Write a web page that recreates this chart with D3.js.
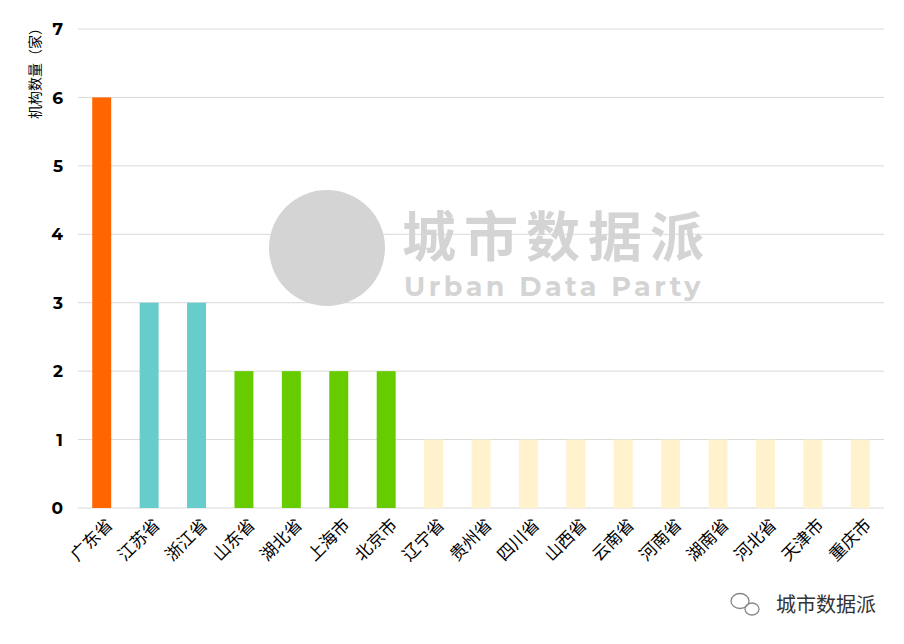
<!DOCTYPE html>
<html><head><meta charset="utf-8">
<script src="https://cdn.jsdelivr.net/npm/d3@7"></script>
<style>body{margin:0;background:#fff}</style>
</head><body>
<svg id="chart" width="904" height="644"></svg>
<script>
var provinces = ["广东省","江苏省","浙江省","山东省","湖北省","上海市","北京市","辽宁省","贵州省","四川省","山西省","云南省","河南省","湖南省","河北省","天津市","重庆市"];
var counts = [6,3,3,2,2,2,2,1,1,1,1,1,1,1,1,1,1];
var colors = ["#FF6600","#66CCCC","#66CCCC","#66CC00","#66CC00","#66CC00","#66CC00","#FFF2CC","#FFF2CC","#FFF2CC","#FFF2CC","#FFF2CC","#FFF2CC","#FFF2CC","#FFF2CC","#FFF2CC","#FFF2CC"];
var yTicks = [0,1,2,3,4,5,6,7];

var svg = d3.select("#chart");
var font = "'Noto Sans CJK SC', 'Noto Sans', sans-serif";
var x = d3.scaleBand().domain(provinces).range([78, 884]).paddingInner(0.6).paddingOuter(0.3);
var y = d3.scaleLinear().domain([0,7]).range([508, 29]);

svg.append("g").selectAll("line").data(yTicks).enter().append("line")
  .attr("x1", 78).attr("x2", 884)
  .attr("y1", d => y(d)).attr("y2", d => y(d))
  .attr("stroke", "#d9d9d9").attr("stroke-width", 1);

svg.append("g").selectAll("text").data(yTicks).enter().append("text")
  .attr("x", 63).attr("y", d => y(d)).attr("dy", "0.36em")
  .attr("text-anchor", "end").attr("font-family", "Montserrat, 'Open Sans', sans-serif")
  .attr("font-weight", "bold").attr("font-size", 17).text(d => d);

svg.append("text").attr("transform", "translate(40,70) rotate(-90)")
  .attr("text-anchor", "middle").attr("font-family", font).attr("font-size", 14)
  .text("机构数量（家）");

// watermark
var wm = svg.append("g");
wm.append("circle").attr("cx", 327).attr("cy", 248).attr("r", 58).attr("fill", "#d4d4d4");
wm.append("text").attr("x", 402).attr("y", 257).attr("font-family", font).attr("font-weight", "bold")
  .attr("font-size", 54).attr("letter-spacing", 8).attr("fill", "#d4d4d4").text("城市数据派");
wm.append("text").attr("x", 404).attr("y", 296).attr("font-family", "Montserrat, 'Open Sans', sans-serif")
  .attr("font-weight", "bold").attr("font-size", 27).attr("letter-spacing", 3.5).attr("fill", "#d4d4d4")
  .text("Urban Data Party");

svg.append("g").selectAll("rect").data(provinces).enter().append("rect")
  .attr("x", d => x(d)).attr("width", x.bandwidth())
  .attr("y", (d,i) => y(counts[i])).attr("height", (d,i) => y(0) - y(counts[i]))
  .attr("fill", (d,i) => colors[i]);

svg.append("g").selectAll("text").data(provinces).enter().append("text")
  .attr("transform", d => `translate(${x(d) + x.bandwidth()/2 + 12},${526}) rotate(-45)`)
  .attr("text-anchor", "end").attr("font-family", font).attr("font-size", 17)
  .text(d => d);

svg.append("text").attr("x", 876).attr("y", 612).attr("text-anchor", "end")
  .attr("font-family", font).attr("font-size", 20).attr("fill", "#333").text("城市数据派");
var ic = svg.append("g").attr("fill", "none").attr("stroke", "#888").attr("stroke-width", 1.3);
ic.append("ellipse").attr("cx", 740).attr("cy", 601).attr("rx", 9).attr("ry", 7.5);
ic.append("ellipse").attr("cx", 752).attr("cy", 609).attr("rx", 7).attr("ry", 6);
</script>
</body></html>
